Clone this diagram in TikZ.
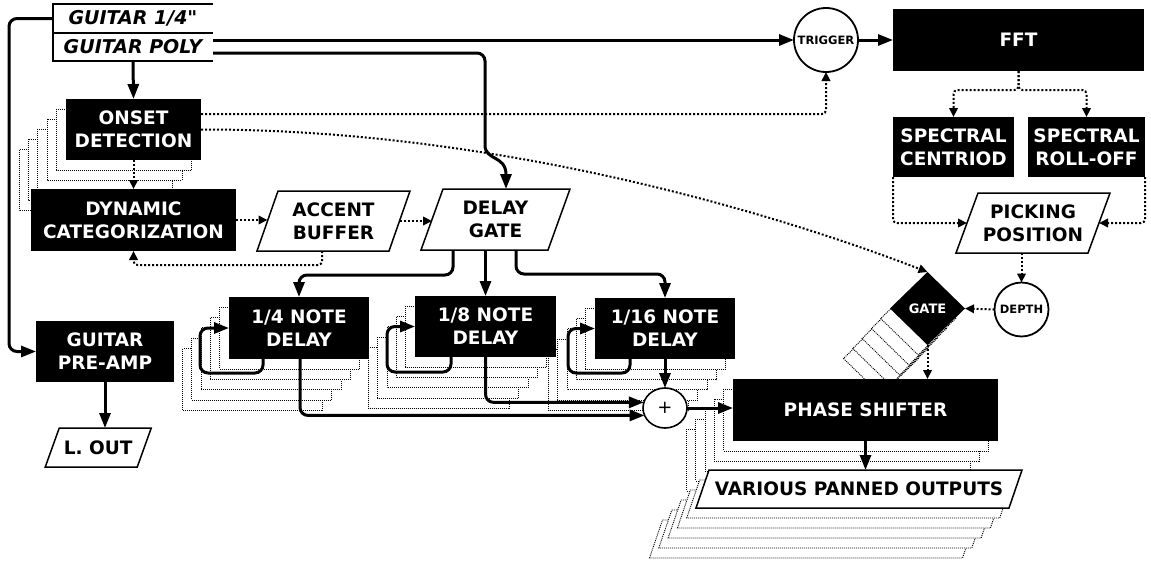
\documentclass[tikz,border=0pt]{standalone}
\usepackage{fontspec}
\setmainfont{DejaVu Sans}[Ligatures=TeXOff]
\usetikzlibrary{arrows.meta,shapes.geometric}
\newcommand\pgdraw[6]{\path[#1] (#2-#4/2+#6/2,#3-#5/2) -- (#2+#4/2+#6/2,#3-#5/2) -- (#2+#4/2-#6/2,#3+#5/2) -- (#2-#4/2-#6/2,#3+#5/2) -- cycle;}
\begin{document}
\begin{tikzpicture}[x=1pt,y=-1pt,
 every node/.style={inner sep=0pt,outer sep=0pt},
 txt/.style={font=\bfseries\fontsize{18.5}{23}\selectfont,align=center},
 blk/.style 2 args={txt,fill=black,text=white,minimum width=#1,minimum height=#2},
 shad/.style={draw=black,fill=white,line width=0.9pt,dash pattern=on 1pt off 1pt},
 pgl/.style={draw=black,fill=white,line width=1.5pt,line join=miter},
 conn/.style={line width=3pt,-{Triangle[length=15pt,width=11pt]},rounded corners=8pt},
 dconn/.style={line width=2pt,dash pattern=on 2pt off 2pt,-{Triangle[length=9pt,width=8.5pt]},rounded corners=4pt},
 circ/.style={circle,draw,line width=1.8pt,fill=white,font=\bfseries\fontsize{11.5}{13}\selectfont},
 gtxt/.style={font=\bfseries\itshape\fontsize{19}{22}\selectfont,minimum width=160pt},
]
\useasboundingbox[fill=white] (0,0) rectangle (1151,562);

% ---------- shadows ----------
\foreach \k in {5,4,3,2,1} {
  \draw[shad] (66-9.4*\k,99+10.1*\k) rectangle ++(135,61);
  \draw[shad] (229-9.3*\k,297+10.3*\k) rectangle ++(140,62);
  \draw[shad] (415-9.3*\k,296+10.3*\k) rectangle ++(141,61);
  \draw[shad] (595-9.3*\k,298+10.3*\k) rectangle ++(140,61);
  \draw[shad] (927.5-9.3*\k,272+10*\k) -- ++(37.5,36.5) -- ++(-37.5,36.5) -- ++(-37.5,-36.5) -- cycle;
}
\foreach \k in {5,4,3,2,1} {
  \draw[shad] (733-9.3*\k,379+10*\k) rectangle ++(265,62);
}
\foreach \k in {5,4,3,2,1} {
  \pgdraw{shad}{859-9.3*\k}{489+10*\k}{313}{38}{13}
}

% ---------- guitar inputs ----------
\node[gtxt,minimum height=29pt] (gq) at (133,18.5) {GUITAR 1/4"};
\node[gtxt,minimum height=28pt] (gp) at (133,47) {GUITAR POLY};
\draw[line width=1.3pt] (gq.north east) -- (gq.north west) -- (gp.south west) -- (gp.south east);
\draw[line width=1.3pt] (gq.south west) -- (gq.south east);

% ---------- black boxes ----------
\node[blk={135pt}{61pt}] (onset) at (133.5,129.5) {ONSET\\DETECTION};
\node[blk={205pt}{62pt}] (dyn) at (133.5,220) {DYNAMIC\\CATEGORIZATION};
\node[blk={140pt}{62pt}] (q4) at (299,328) {1/4 NOTE\\DELAY};
\node[blk={141pt}{61pt}] (q8) at (485.5,326.5) {1/8 NOTE\\DELAY};
\node[blk={140pt}{61pt}] (q16) at (665,328.5) {1/16 NOTE\\DELAY};
\node[blk={265pt}{62pt}] (phase) at (865.5,410) {PHASE SHIFTER};
\node[blk={251pt}{62pt}] (fft) at (1018.5,40) {FFT};
\node[blk={121pt}{60pt}] (cent) at (953.5,147) {SPECTRAL\\CENTRIOD};
\node[blk={117pt}{60pt}] (roll) at (1086.5,147) {SPECTRAL\\ROLL-OFF};
\node[blk={138pt}{61pt}] (preamp) at (105,351.5) {GUITAR\\PRE-AMP};
\node[diamond,fill=black,text=white,minimum width=75pt,minimum height=73pt,
      font=\bfseries\fontsize{13}{15}\selectfont] (gate) at (927.5,308.5) {GATE};

% ---------- parallelograms ----------
\pgdraw{pgl}{333.5}{221}{132}{60}{21}
\node[txt,minimum width=132pt,minimum height=60pt] (acc) at (333.5,221) {ACCENT\\BUFFER};
\pgdraw{pgl}{495.5}{219.5}{127}{61}{22}
\node[txt,minimum width=127pt,minimum height=61pt] (dgate) at (495.5,219.5) {DELAY\\GATE};
\pgdraw{pgl}{1033}{223}{132}{60}{22}
\node[txt,minimum width=132pt,minimum height=60pt] (pick) at (1033,223) {PICKING\\POSITION};
\pgdraw{pgl}{859}{489}{313}{38}{13}
\node[txt,minimum width=313pt,minimum height=38pt] (var) at (859,489) {VARIOUS PANNED OUTPUTS};
\pgdraw{pgl}{98.25}{447.5}{92}{39}{14}
\node[txt,minimum width=92pt,minimum height=39pt] (lout) at (98.25,447.5) {L. OUT};

% ---------- circles ----------
\node[circ,minimum size=64pt] (trig) at (826,40) {TRIGGER};
\node[circ,minimum size=54pt] (depth) at (1021.5,309.5) {DEPTH};
\node[ellipse,draw,line width=1.6pt,fill=white,minimum width=44pt,minimum height=40pt,
      font=\fontsize{18}{20}\selectfont] (plus) at (665,408) {+};

% ---------- solid connectors ----------
\draw[conn] (gq.west) -- ++(-44,0) |- (preamp.west);
\draw[conn] ([yshift=7pt]gp.east) -- (trig.west);
\draw[conn] ([yshift=-6pt]gp.east) -| ([xshift=-10.5pt,yshift=52pt]dgate.north)
   .. controls ([xshift=-10.5pt,yshift=28pt]dgate.north) and ([xshift=10.5pt,yshift=34pt]dgate.north)
   .. ([xshift=10.5pt]dgate.north);
\draw[conn] (trig.east) -- (fft.west);
\draw[conn] (gp.south) -- (onset.north);
\draw[conn] ([xshift=-42.5pt]dgate.south) |- ([yshift=22pt]q4.north) -- (q4.north);
\draw[conn] ([xshift=-10pt]dgate.south) -- (q8.north);
\draw[conn] ([xshift=20.5pt]dgate.south) |- ([yshift=24pt]q16.north) -- (q16.north);
\draw[conn] ([xshift=-36pt]q4.south) -- ++(0,14) -| ([xshift=-29pt]q4.west) -- (q4.west);
\draw[conn] ([xshift=-34.5pt]q8.south) -- ++(0,15) -| ([xshift=-28pt]q8.west) -- (q8.west);
\draw[conn] ([xshift=-35pt]q16.south) -- ++(0,14) -| ([xshift=-27pt]q16.west) -- (q16.west);
\draw[conn] ([xshift=1pt]q4.south) |- (plus.200);
\draw[conn] (q8.south) |- (plus.165);
\draw[conn] (q16.south) -- (plus.north);
\draw[conn] (plus.east) -- (plus.east -| phase.west);
\draw[conn] (phase.south) -- (phase.south |- var.north);
\draw[conn] (preamp.south) -- (preamp.south |- lout.north);

% ---------- dotted connectors ----------
\draw[dconn] ([yshift=15.5pt]onset.east) -| (trig.south);
\draw[dconn] (onset.east) .. controls (500,129) and (780,215) .. (gate.north);
\draw[dconn] (onset.south) -- (dyn.north);
\draw[dconn] (dyn.east) -- (dyn.east -| acc.west);
\draw[dconn] ([xshift=-11.5pt]acc.south) -- ++(0,14) -| (dyn.south);
\draw[dconn] (acc.east) -- (acc.east -| dgate.west);
\draw[dconn] (fft.south) -- ++(0,19) -| (cent.north);
\draw[dconn] (fft.south) -- ++(0,19) -| (roll.north);
\draw[dconn] (cent.south west) |- (pick.west);
\draw[dconn] (roll.south east) |- (pick.east);
\draw[dconn] (depth.north |- pick.south) -- (depth.north);
\draw[dconn] (depth.west) -- (gate.east);
\draw[dconn] (gate.south) -- (gate.south |- phase.north);
\end{tikzpicture}
\end{document}
